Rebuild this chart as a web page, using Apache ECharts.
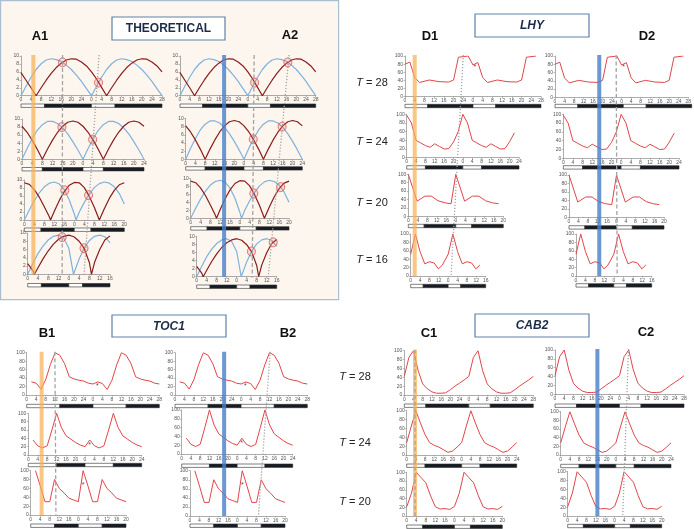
<!DOCTYPE html>
<html><head><meta charset="utf-8">
<script src="https://cdn.jsdelivr.net/npm/echarts@6/dist/echarts.min.js"></script>
<style>html,body{margin:0;padding:0;background:#fff}#c{width:694px;height:529px}</style>
</head><body><div id="c"></div>
<script>
// ---------------- DATA ----------------
const xTickStep = 4;

// A: theoretical curves, [time (h), level]
const theoBlue28 = [[0,0],[2,2.4],[4,4.65],[6,6.6],[8,8.05],[10,9.0],[12,9.3],[14,9.1],[16,8.6],[18,7.7],[20,6.6],[22,5.2],[24,3.6],[26,1.8],[28,0],[30,2.4],[32,4.65],[34,6.6],[36,8.05],[38,9.0],[40,9.3],[42,9.1],[44,8.6],[46,7.7],[48,6.6],[50,5.2],[52,3.6],[54,1.8],[56,0]];
const theoRed28  = [[0,5.8],[2,3.9],[4,2.0],[6,0],[8,2.0],[10,3.9],[12,5.6],[14,7.1],[16,8.2],[18,9.0],[20,9.3],[22,9.2],[24,8.5],[26,7.5],[28,6.0],[30,4.2],[32,2.1],[34,0],[36,2.0],[38,3.9],[40,5.6],[42,7.1],[44,8.2],[46,9.0],[48,9.3],[50,9.2],[52,8.5],[54,7.5],[56,6.0]];
const theoBlue24 = [[0,0],[2,2.7],[4,5.1],[6,7.2],[8,8.6],[10,9.4],[12,9.4],[14,8.9],[16,7.8],[18,6.3],[20,4.4],[22,2.3],[24,0],[26,2.7],[28,5.1],[30,7.2],[32,8.6],[34,9.4],[36,9.4],[38,8.9],[40,7.8],[42,6.3],[44,4.4],[46,2.3],[48,0]];
const theoRed24  = [[0,8.2],[2,6.7],[4,4.75],[6,2.5],[8,0],[10,2.5],[12,4.75],[14,6.7],[16,8.2],[18,9.2],[20,9.5],[22,9.2],[24,8.2],[26,6.7],[28,4.75],[30,2.5],[32,0],[34,2.5],[36,4.75],[38,6.7],[40,8.2],[42,9.2],[44,9.5],[46,9.2],[48,8.2]];
const theoBlue20 = [[0,0],[2,2.5],[4,4.8],[6,6.8],[8,8.3],[10,9.2],[12,9.5],[14,9.0],[16,7.6],[18,5.0],[20,1.5],[20.7,0],[22,2.0],[24,4.4],[26,6.5],[28,8.1],[30,9.1],[32,9.5],[34,9.2],[36,8.3],[38,6.6],[40,4.0]];
const theoRed20  = [[0,9.3],[2,8.9],[4,7.6],[6,5.7],[8,3.3],[10,0.8],[10.5,0],[12,2.2],[14,4.9],[16,7.1],[18,8.7],[20,9.4],[22,9.3],[24,8.1],[26,5.9],[28,3.2],[30,0],[32,2.8],[34,5.4],[36,7.4],[38,8.8],[40,9.3]];
const theoBlue16 = [[0,0],[2,2.6],[4,5.0],[6,6.9],[8,8.3],[10,9.2],[12,9.5],[14,8.8],[16,6.3],[17.8,0],[20,3.7],[22,6.4],[24,8.2],[26,9.2],[28,9.5],[30,9.1],[32,7.6]];
const theoRed16  = [[0,2.6],[2,0.9],[2.6,0],[4,1.6],[6,3.8],[8,5.7],[10,7.3],[12,8.5],[14,9.2],[16,9.5],[18,9.1],[20,8.0],[22,6.2],[24,2.8],[24.8,0],[26,2.9],[28,6.0],[30,8.3],[32,9.3]];
// crossing points circled
const theoCross28 = [[16.5,8.4],[30.8,3.3],[44.5,8.4]];
const theoCross24 = [[15.7,8.0],[27.8,4.9],[39.7,8.0]];
const theoCross20 = [[16.2,7.4],[25.7,6.2],[36.6,7.8]];
const theoCross16 = [[13.4,9.0],[21.9,6.3],[30.6,8.6]];

// D: LHY
const lhy28 = [[0,80],[2,85],[4,47],[6,35],[10,41],[14,37],[18,36],[20,41],[22,97],[26,100],[28,78],[30,84],[32,47],[34,35],[38,41],[42,37],[46,36],[48,41],[50,97],[54,100]];
const lhy24 = [[0,98],[2,80],[4,40],[6,34],[8,28],[10,24],[12,32],[14,26],[16,20],[18,21],[20,36],[22,60],[24,100],[26,80],[28,40],[30,34],[32,28],[34,24],[36,32],[38,26],[40,20],[42,21],[44,37],[46,57]];
const lhy20 = [[0,100],[3.7,36],[7,48],[9.7,48],[12.5,37],[15.5,32],[18,30],[20,100],[23.7,36],[27,48],[29.7,48],[32.5,37],[35.5,32],[38,30]];
const lhy16 = [[0,52],[2,100],[4,58],[6,29],[8,34],[10,31],[11.8,17],[13.5,26],[16,52],[18,100],[20,58],[22,29],[24,34],[26,31],[27.8,17],[29.5,26]];
const lhyStar28 = [[28.8,74]];

// B: TOC1
const toc1_28 = [[2,31],[4,28],[6,14],[8,36],[10,72],[12,100],[14,94],[16,74],[18,43],[20,38],[22,35],[24,33],[26,28],[28,26],[30,31],[32,27],[34,13],[36,35],[38,71],[40,100],[42,94],[44,75],[46,43],[48,38],[50,35],[52,33],[54,28],[56,26]];
const toc1_24 = [[2,36],[4,22],[6,17],[8,22],[10,60],[12,100],[14,66],[16,46],[18,38],[20,30],[22,24],[24,20],[26,36],[28,22],[30,17],[32,22],[34,60],[36,100],[38,66],[40,46],[42,38],[44,30],[46,24],[48,20]];
const toc1_20 = [[2,100],[4,66],[6,30],[8,30],[10,80],[12,60],[14,50],[16,38],[18,34],[20,30],[22,100],[24,66],[26,30],[28,30],[30,80],[32,60],[34,50],[36,38],[38,34],[40,30]];
const toc1Star28 = [[29.8,21]];
const toc1Star24 = [[25.9,24]];
const toc1Star20 = [[22,68]];

// C: CAB2
const cab2_28 = [[0,42],[2,85],[4,100],[6,55],[8,25],[10,14],[12,7],[14,4],[16,4],[18,5],[20,12],[22,20],[24,27],[26,34],[28,42],[30,85],[32,100],[34,55],[36,25],[38,14],[40,7],[42,4],[44,4],[46,5],[48,12],[50,20],[52,27],[54,34],[56,42]];
const cab2_24 = [[0,28],[2,65],[4,100],[6,72],[8,46],[10,28],[12,22],[14,18],[16,12],[18,6],[20,9],[22,18],[24,28],[26,65],[28,100],[30,72],[32,46],[34,28],[36,22],[38,18],[40,12],[42,6],[44,9],[46,18],[48,28]];
const cab2_20 = [[0,21],[2,52],[4,100],[6,88],[8,76],[10,46],[12,21],[14,16],[16,17],[18,15],[20,22],[22,52],[24,100],[26,88],[28,76],[30,46],[32,21],[34,16],[36,17],[38,15],[40,22]];

// light (0) / dark (1) periods: [start, end, dark]
const ldThird28 = [[0,9.33,0],[9.33,28,1],[28,37.33,0],[37.33,56,1]];
const ldThird24 = [[0,8,0],[8,24,1],[24,32,0],[32,48,1]];
const ldThird20 = [[0,6.67,0],[6.67,20,1],[20,26.67,0],[26.67,40,1]];
const ldThird16 = [[0,5.33,0],[5.33,16,1],[16,21.33,0],[21.33,32,1]];
const ldHalf28 = [[0,14,0],[14,28,1],[28,42,0],[42,56,1]];
const ldHalf24 = [[0,12,0],[12,24,1],[24,36,0],[36,48,1]];
const ldHalf20 = [[0,10,0],[10,20,1],[20,30,0],[30,40,1]];

const datasets = {
  theo: {28:{blue:theoBlue28,red:theoRed28,cross:theoCross28,ld:ldThird28},
         24:{blue:theoBlue24,red:theoRed24,cross:theoCross24,ld:ldThird24},
         20:{blue:theoBlue20,red:theoRed20,cross:theoCross20,ld:ldThird20},
         16:{blue:theoBlue16,red:theoRed16,cross:theoCross16,ld:ldThird16}},
  lhy:  {28:{line:lhy28,star:lhyStar28,ld:ldThird28},24:{line:lhy24,ld:ldThird24},
         20:{line:lhy20,ld:ldThird20},16:{line:lhy16,ld:ldThird16}},
  toc1: {28:{line:toc1_28,star:toc1Star28,ld:ldHalf28},24:{line:toc1_24,star:toc1Star24,ld:ldHalf24},
         20:{line:toc1_20,star:toc1Star20,ld:ldHalf20}},
  cab2: {28:{line:cab2_28,ld:ldThird28},24:{line:cab2_24,ld:ldThird24},20:{line:cab2_20,ld:ldThird20}}
};

// ---------------- LAYOUT ----------------
const panels = [
 {key:'A1-1',set:'theo',T:28,left:21,top:56,width:141,height:39.7,barTop:104,cross:[0,1]},
 {key:'A1-2',set:'theo',T:24,left:22,top:119,width:122,height:40.3,barTop:167.5,cross:[0,1]},
 {key:'A1-3',set:'theo',T:20,left:24.3,top:180,width:100,height:40,barTop:228,cross:[0,1]},
 {key:'A1-4',set:'theo',T:16,left:27.7,top:233,width:82.3,height:41.3,barTop:283.5,cross:[0,1]},
 {key:'A2-1',set:'theo',T:28,left:180,top:56,width:135.7,height:39.7,barTop:104,cross:[1,2]},
 {key:'A2-2',set:'theo',T:24,left:185.7,top:118.5,width:116.6,height:40.8,barTop:166.7,cross:[1,2]},
 {key:'A2-3',set:'theo',T:20,left:190.7,top:178.3,width:98.3,height:40,barTop:226.7,cross:[1,2]},
 {key:'A2-4',set:'theo',T:16,left:196.7,top:236.7,width:80,height:40,barTop:285,cross:[1,2]},
 {key:'D1-1',set:'lhy',T:28,left:405,top:56,width:136,height:40.7,barTop:104.3},
 {key:'D1-2',set:'lhy',T:24,left:406.7,top:114.3,width:112.3,height:43.4,barTop:165.7},
 {key:'D1-3',set:'lhy',T:20,left:408.3,top:174.3,width:95,height:42,barTop:224.3},
 {key:'D1-4',set:'lhy',T:16,left:410.7,top:234,width:75,height:42,barTop:284.3},
 {key:'D2-1',set:'lhy',T:28,left:555,top:56,width:136.7,height:41.3,barTop:104.3},
 {key:'D2-2',set:'lhy',T:24,left:563.3,top:114.3,width:115.7,height:44,barTop:165.7},
 {key:'D2-3',set:'lhy',T:20,left:569,top:175,width:95,height:42.3,barTop:225.7},
 {key:'D2-4',set:'lhy',T:16,left:576,top:234,width:75.7,height:42,barTop:283.7},
 {key:'B1-1',set:'toc1',T:28,left:26.7,top:352.7,width:132.6,height:42.3,barTop:404.3},
 {key:'B1-2',set:'toc1',T:24,left:28.3,top:413.3,width:113.4,height:41.7,barTop:463.3},
 {key:'B1-3',set:'toc1',T:20,left:30.7,top:470.7,width:95.3,height:44.3,barTop:524},
 {key:'B2-1',set:'toc1',T:28,left:175,top:352.7,width:132.3,height:42.3,barTop:404.3},
 {key:'B2-2',set:'toc1',T:24,left:181.7,top:410,width:111,height:44,barTop:464},
 {key:'B2-3',set:'toc1',T:20,left:190,top:470.7,width:95,height:45.3,barTop:524},
 {key:'C1-1',set:'cab2',T:28,left:404.3,top:350.7,width:129,height:44.3,barTop:404},
 {key:'C1-2',set:'cab2',T:24,left:406.7,top:410.7,width:110,height:44.3,barTop:464},
 {key:'C1-3',set:'cab2',T:20,left:406.7,top:472.3,width:95.6,height:43.7,barTop:525},
 {key:'C2-1',set:'cab2',T:28,left:555,top:350,width:129,height:44.3,barTop:404},
 {key:'C2-2',set:'cab2',T:24,left:560.7,top:411.7,width:110.3,height:43.3,barTop:464.3},
 {key:'C2-3',set:'cab2',T:20,left:567.7,top:471.7,width:94,height:44.3,barTop:524.3}
];
const BAR_H = 3.4;
const FONT = '"Liberation Sans", Arial, sans-serif';
const ORANGE = 'rgba(246,176,84,0.72)';
const BLUE = 'rgba(74,128,200,0.82)';
const bands = [
 {from:'A1-1',to:'A1-4',t:4.9,color:ORANGE},
 {from:'A2-1',to:'A2-4',t:18.2,color:BLUE},
 {from:'D1-1',to:'D1-4',t:4.0,color:ORANGE},
 {from:'D2-1',to:'D2-4',t:18.6,color:BLUE},
 {from:'B1-1',to:'B1-3',t:6.3,color:ORANGE},
 {from:'B2-1',to:'B2-3',t:20.8,color:BLUE},
 {from:'C1-1',to:'C1-3',t:4.65,color:ORANGE},
 {from:'C2-1',to:'C2-3',t:18.4,color:BLUE}
];
const guides = [
 {from:'A1-1',to:'A1-4',t1:16.5,t2:13.4,dash:'dashed'},
 {from:'A1-1',to:'A1-4',t1:31.0,t2:21.9,dash:'dotted'},
 {from:'A2-1',to:'A2-4',t1:30.6,t2:22.2,dash:'dashed'},
 {from:'A2-1',to:'A2-4',t1:45.0,t2:28.6,dash:'dotted'},
 {from:'D1-1',to:'D1-4',t1:24.0,t2:17.2,dash:'dotted'},
 {from:'D2-1',to:'D2-4',t1:25.7,t2:17.4,dash:'dashed'},
 {from:'B1-1',to:'B1-3',t1:11.9,t2:10.6,dash:'dashed'},
 {from:'B2-1',to:'B2-3',t1:40.3,t2:28.8,dash:'dotted'},
 {from:'C1-1',to:'C1-3',t1:4.65,t2:3.5,dash:'dashed'},
 {from:'C2-1',to:'C2-3',t1:31.9,t2:23.4,dash:'dotted'}
];

// ---------------- BUILD ----------------
const chart = echarts.init(document.getElementById('c'), null, {renderer:'canvas'});
const option = {animation:false, grid:[], xAxis:[], yAxis:[], series:[]};
const axisCol = '#8a8a8a';
const gridOf = {};
panels.forEach(p => {
  const gi = option.grid.length;
  gridOf[p.key] = gi;
  const T = p.T, d = datasets[p.set][T], theo = p.set === 'theo';
  option.grid.push({left:p.left, top:p.top, width:p.width, height:p.height});
  option.grid.push({left:p.left, top:p.barTop, width:p.width, height:BAR_H});
  option.xAxis.push({gridIndex:gi, type:'value', min:0, max:2*T, interval:xTickStep,
    axisLine:{lineStyle:{color:axisCol,width:0.7}}, axisTick:{length:1.5,lineStyle:{color:axisCol,width:0.6}},
    splitLine:{show:false},
    axisLabel:{fontSize:5, color:'#555', margin:1.8, fontFamily:FONT,
      formatter: v => v === 2*T ? String(T) : String(v % T)}});
  option.yAxis.push({gridIndex:gi, type:'value', min:0, max: theo?10:100, interval: theo?2:20,
    axisLine:{show:true,lineStyle:{color:axisCol,width:0.7}}, axisTick:{show:true,length:1.5,lineStyle:{color:axisCol,width:0.6}},
    splitLine:{show:false},
    axisLabel:{fontSize:5, color:'#555', margin:2, fontFamily:FONT}});
  option.xAxis.push({gridIndex:gi+1, type:'value', min:0, max:2*T, show:false});
  option.yAxis.push({gridIndex:gi+1, type:'value', min:0, max:1, show:false});
  if (theo) {
    option.series.push({type:'line', xAxisIndex:gi, yAxisIndex:gi, data:d.blue, showSymbol:false, silent:true,
      lineStyle:{color:'#7fb2de', width:1.2}});
    option.series.push({type:'line', xAxisIndex:gi, yAxisIndex:gi, data:d.red, showSymbol:false, silent:true,
      lineStyle:{color:'#8a1c1c', width:1.2}});
    option.series.push({type:'scatter', xAxisIndex:gi, yAxisIndex:gi, z:5, silent:true,
      data: p.cross.map(i => d.cross[i]), symbol:'circle', symbolSize:[8,9],
      itemStyle:{color:'rgba(236,120,120,0.25)', borderColor:'#e0403c', borderWidth:0.9}});
  } else {
    option.series.push({type:'line', xAxisIndex:gi, yAxisIndex:gi, data:d.line, showSymbol:false, silent:true,
      lineStyle:{color:'#e2454b', width:1}});
    if (d.star) option.series.push({type:'scatter', xAxisIndex:gi, yAxisIndex:gi, data:d.star, silent:true,
      symbolSize:1, itemStyle:{color:'rgba(0,0,0,0)'},
      label:{show:true, formatter:'*', position:'inside', fontSize:7, color:'#222', fontFamily:FONT}});
  }
  option.series.push({type:'custom', xAxisIndex:gi+1, yAxisIndex:gi+1, data:d.ld, silent:true,
    renderItem:(params, api) => {
      const a = api.coord([api.value(0), 0]);
      const b = api.coord([api.value(1), 1]);
      return {type:'rect', shape:{x:a[0], y:b[1], width:b[0]-a[0], height:a[1]-b[1]},
        style:{fill: api.value(2) ? '#171c24' : '#ffffff', stroke:'#2a2a2a', lineWidth:0.6}};
    }});
});
chart.setOption(option);

// ---------------- ANNOTATIONS ----------------
const pByKey = {}; panels.forEach(p => pByKey[p.key] = p);
function pix(key, t, v) { return chart.convertToPixel({gridIndex:gridOf[key]}, [t, v]); }
function ymax(key) { return pByKey[key].set === 'theo' ? 10 : 100; }
const gfx = [];
gfx.push({type:'rect', z:-10, shape:{x:0.6, y:0.6, width:338, height:299}, silent:true,
  style:{fill:'#fcf6ee', stroke:'#a9c0d4', lineWidth:1.2}});
bands.forEach(b => {
  const top = pix(b.from, b.t, ymax(b.from));
  const bot = pix(b.to, 0, 0);
  gfx.push({type:'rect', z:50, silent:true, shape:{x:top[0]-2, y:top[1]-1, width:4, height:bot[1]-top[1]+1},
    style:{fill:b.color}});
});
guides.forEach(g => {
  const top = pix(g.from, g.t1, ymax(g.from));
  const bot = pix(g.to, g.t2, 0);
  gfx.push({type:'line', z:51, silent:true, shape:{x1:top[0], y1:top[1]-1, x2:bot[0], y2:bot[1]+1},
    style:{stroke:'#a3a3a3', lineWidth:1.3, lineDash: g.dash==='dashed' ? [4,2.5] : [1.2,1.8]}});
});
function box(x, y, w, h, text, italic) {
  gfx.push({type:'rect', z:20, silent:true, shape:{x:x, y:y, width:w, height:h},
    style:{fill:'#ffffff', stroke:'#5f82a9', lineWidth:1.2}});
  gfx.push({type:'text', z:21, silent:true, x:x+w/2, y:y+h/2+0.5,
    style:{text:text, fontSize:12, fontWeight:'bold', fontStyle: italic?'italic':'normal', fontFamily:FONT,
      fill:'#1b2b48', align:'center', verticalAlign:'middle'}});
}
box(112, 17, 113, 23, 'THEORETICAL', false);
box(475, 14, 114, 23, 'LHY', true);
box(112, 315, 114, 22, 'TOC1', true);
box(475, 314, 114, 23, 'CAB2', true);
[['A1',40,36],['A2',290,35],['D1',430,36],['D2',647,36],['B1',47,333],['B2',288,333],['C1',429,333],['C2',646,332]]
 .forEach(([t,x,y]) => gfx.push({type:'text', z:21, silent:true, x:x, y:y,
   style:{text:t, fontSize:13, fontWeight:'bold', fontFamily:FONT, fill:'#111', align:'center', verticalAlign:'middle'}}));
[['28',372,83],['24',372,142],['20',372,203],['16',372,260],['28',355,377],['24',355,443],['20',355,502]]
 .forEach(([t,x,y]) => gfx.push({type:'text', z:21, silent:true, x:x, y:y,
   style:{text:'{i|T} = '+t, fontSize:11, fontFamily:FONT, fill:'#222', align:'center', verticalAlign:'middle',
     rich:{i:{fontStyle:'italic', fontSize:11, fontFamily:FONT, fill:'#222'}}}}));
chart.setOption({graphic:{elements:gfx}});
</script></body></html>
